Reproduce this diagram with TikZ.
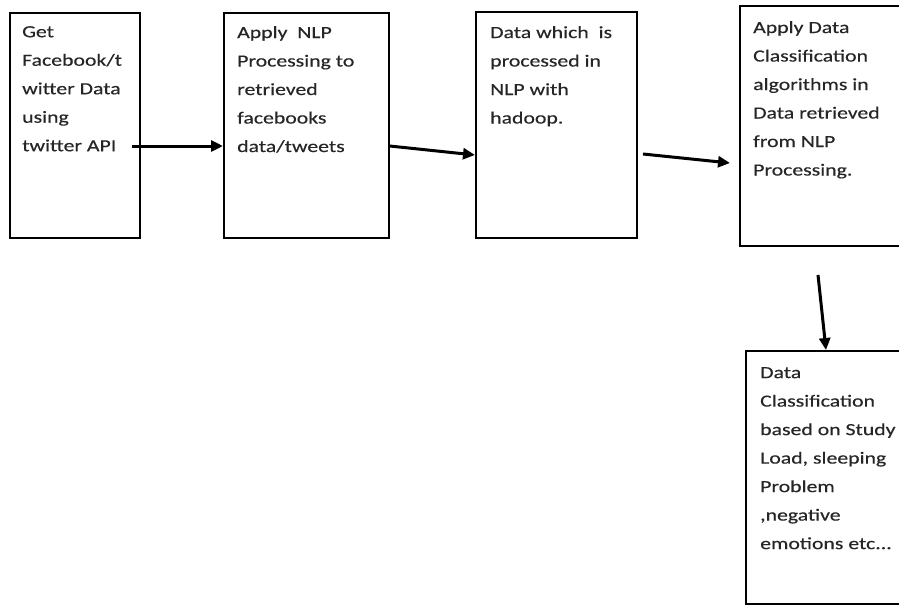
\documentclass[tikz,border=0pt]{standalone}
\usepackage{fontspec}
\setmainfont[FakeStretch=1.28,FakeBold=0.35]{Carlito}
\usetikzlibrary{arrows.meta}
\begin{document}
\begin{tikzpicture}[x=1pt,y=-1pt,
  box/.style={draw=black, line width=1.6pt, rectangle, anchor=north west, inner sep=0pt},
  txt/.style={anchor=north west, inner sep=0pt, align=left, text=black!85,
              font=\fontsize{17}{28.5}\selectfont},
  arr/.style={line width=3pt, -{Triangle[length=12pt,width=11pt]}}]
\useasboundingbox (0,0) rectangle (899,605);
\clip (0,0) rectangle (899,605);
\fill[white] (0,0) rectangle (899,605);

\node[box, minimum width=130pt, minimum height=225pt] (b1) at (9,12) {};
\node[box, minimum width=165pt, minimum height=225pt] (b2) at (223,12) {};
\node[box, minimum width=161pt, minimum height=226pt] (b3) at (475,11) {};
\node[box, minimum width=181pt, minimum height=240pt] (b4) at (739,5) {};
\node[box, minimum width=175pt, minimum height=253pt] (b5) at (745,350) {};

\node[txt] (t1) at (22,26) {Get\\Facebook/t\\witter Data\\using\\twitter API};
\node[txt] (t2) at (237,26) {Apply\ \ NLP\\Processing to\\retrieved\\facebooks\\data/tweets};
\node[txt] (t3) at (490,26) {Data which\ \ is\\processed in\\NLP with\\hadoop.};
\node[txt] (t4) at (753,21) {Apply Data\\Classification\\algorithms in\\Data retrieved\\from NLP\\Processing.};
\node[txt] (t5) at (760,367) {Data\\Classification\\based on Study\\Load, sleeping\\Problem\\,negative\\emotions etc...};

\coordinate (s1) at (132,146);
\coordinate (s2) at (388,146);
\coordinate (e2) at (475,155);
\coordinate (s3) at (643,154);
\coordinate (e3) at (730,163);
\coordinate (s4) at (818,275);
\coordinate (e4) at (826,350);

\draw[arr] (s1) -- (s1 -| b2.west);
\draw[arr] (b2.east |- s2) -- (b3.west |- e2);
\draw[arr] (s3) -- (e3);
\draw[arr] (s4) -- (b5.north -| e4);
\end{tikzpicture}
\end{document}
